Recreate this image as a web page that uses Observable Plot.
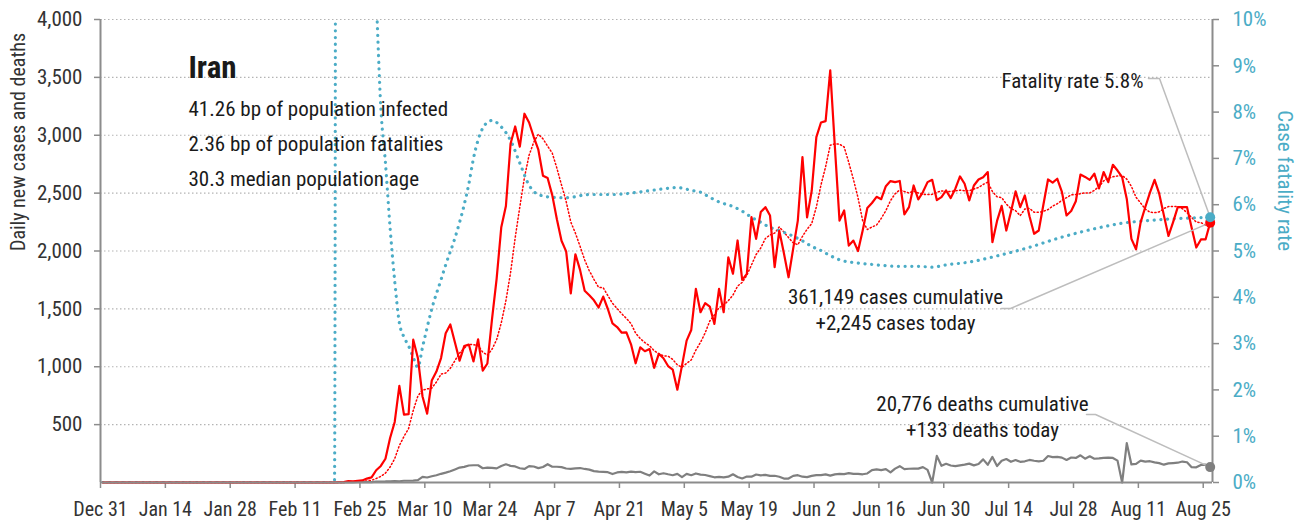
<!DOCTYPE html>
<html>
<head>
<meta charset="utf-8">
<script src="https://cdn.jsdelivr.net/npm/d3@7"></script>
<script src="https://cdn.jsdelivr.net/npm/@observablehq/plot@0.6"></script>
<style>
  html, body { margin: 0; padding: 0; background: #fff; }
  #chart svg { display: block; }
</style>
</head>
<body>
<div id="chart"></div>
<script>
// ---------------- DATA ----------------
// Series are zero from zeroStart up to the day before casesStart.
const zeroStart = "2019-12-31";
const casesStart = "2020-02-20";

// Daily new cases (one value per day from casesStart)
const dailyCases = [
  2, 3, 13, 10, 15, 18, 34, 44, 106, 143,
  205, 385, 523, 835, 586, 591, 1234, 1076, 743, 595,
  881, 958, 1075, 1289, 1365, 1209, 1053, 1178, 1192, 1046,
  1237, 966, 1028, 1411, 1762, 2206, 2389, 2926, 3076, 2901,
  3186, 3110, 2987, 2875, 2650, 2630, 2483, 2274, 2089, 1997,
  1634, 1972, 1837, 1657, 1617, 1574, 1512, 1606, 1499, 1374,
  1343, 1294, 1297, 1194, 1030, 1168, 1134, 1153, 991, 1112,
  1073, 1006, 976, 802, 1010, 1226, 1318, 1673, 1471, 1549,
  1520, 1370, 1673, 1471, 1946, 1803, 2091, 1751, 1803, 2292,
  2105, 2336, 2379, 2307, 1860, 2175, 1980, 1773, 2020, 2263,
  2811, 2290, 2520, 2984, 3110, 3122, 3561, 2900, 2263, 2350,
  2047, 2090, 2000, 2177, 2372, 2415, 2468, 2448, 2560, 2604,
  2595, 2605, 2316, 2379, 2566, 2445, 2509, 2595, 2615, 2440,
  2465, 2523, 2457, 2538, 2644, 2581, 2437, 2566, 2618, 2638,
  2682, 2076, 2260, 2390, 2177, 2340, 2515, 2379, 2480, 2300,
  2149, 2177, 2400, 2618, 2590, 2624, 2510, 2307, 2345, 2430,
  2660, 2640, 2615, 2668, 2540, 2682, 2595, 2745, 2695, 2638,
  2450, 2105, 2015, 2250, 2380, 2505, 2615, 2495, 2310, 2130,
  2250, 2379, 2379, 2379, 2200, 2030, 2100, 2100, 2245
];

// Daily new deaths (one value per day from casesStart)
const dailyDeaths = [
  2, 0, 2, 1, 3, 4, 4, 3, 7, 8,
  9, 11, 12, 11, 15, 15, 16, 21, 49, 43,
  54, 63, 75, 85, 97, 113, 129, 135, 147, 149,
  149, 123, 129, 127, 122, 143, 157, 144, 139, 123,
  117, 141, 138, 124, 134, 158, 136, 136, 133, 121,
  117, 122, 125, 117, 111, 98, 94, 92, 89, 73,
  87, 91, 88, 94, 90, 93, 76, 60, 96, 71,
  80, 71, 63, 74, 47, 74, 63, 78, 68, 65,
  55, 45, 48, 45, 50, 71, 48, 35, 51, 50,
  69, 62, 66, 57, 58, 50, 34, 34, 57, 63,
  50, 47, 57, 63, 64, 70, 59, 70, 75, 72,
  81, 74, 75, 71, 78, 107, 113, 107, 115, 87,
  120, 141, 116, 119, 121, 120, 133, 109, 0, 230,
  144, 162, 147, 141, 148, 154, 163, 148, 160, 200,
  153, 221, 142, 188, 203, 179, 194, 179, 183, 195,
  188, 183, 188, 229, 219, 221, 215, 195, 216, 212,
  235, 206, 226, 205, 208, 212, 215, 212, 189, 0,
  340, 156, 161, 189, 181, 184, 174, 167, 154, 165,
  168, 171, 181, 175, 132, 131, 152, 154, 133
];

// Case fatality rate (%)
const cfrDates = [
  "2019-12-31", "2020-02-19", "2020-02-20", "2020-02-23", "2020-02-26", "2020-02-28", "2020-02-29",
  "2020-03-01", "2020-03-02", "2020-03-03", "2020-03-04", "2020-03-05", "2020-03-06", "2020-03-07",
  "2020-03-08", "2020-03-09", "2020-03-10", "2020-03-11", "2020-03-13", "2020-03-14", "2020-03-16",
  "2020-03-17", "2020-03-18", "2020-03-19", "2020-03-20", "2020-03-21", "2020-03-23", "2020-03-24",
  "2020-03-26", "2020-03-28", "2020-03-30", "2020-04-01", "2020-04-03", "2020-04-06", "2020-04-09",
  "2020-04-14", "2020-04-19", "2020-04-26", "2020-04-29", "2020-05-03", "2020-05-06", "2020-05-08",
  "2020-05-10", "2020-05-12", "2020-05-15", "2020-05-17", "2020-05-19", "2020-05-21", "2020-05-23",
  "2020-05-25", "2020-05-28", "2020-05-30", "2020-06-01", "2020-06-03", "2020-06-05", "2020-06-07",
  "2020-06-11", "2020-06-15", "2020-06-19", "2020-06-24", "2020-06-27", "2020-06-30", "2020-07-05",
  "2020-07-10", "2020-07-18", "2020-07-25", "2020-08-01", "2020-08-07", "2020-08-13", "2020-08-19",
  "2020-08-26"
];
const cfrValues = [
  0, 0, 100, 30, 15, 10.5, 8.1,
  6.9, 5.5, 4.35, 3.45, 3.14, 2.95, 2.7,
  2.49, 2.92, 3.35, 3.75, 4.38, 4.7, 5.28,
  5.62, 6.0, 6.45, 7.0, 7.4, 7.78, 7.82,
  7.68, 7.39, 6.9, 6.42, 6.22, 6.16, 6.15,
  6.22, 6.22, 6.29, 6.33, 6.37, 6.31, 6.27,
  6.16, 6.06, 5.96, 5.86, 5.73, 5.62, 5.51,
  5.44, 5.32, 5.22, 5.1, 5.01, 4.9, 4.81,
  4.74, 4.7, 4.67, 4.67, 4.65, 4.7, 4.76,
  4.87, 5.08, 5.3, 5.48, 5.6, 5.66, 5.7,
  5.73
];

// Axes
const leftTicks = [500, 1000, 1500, 2000, 2500, 3000, 3500, 4000];
const rightTicksPct = [0, 1, 2, 3, 4, 5, 6, 7, 8, 9, 10];
const xTickDates = ["2019-12-31", "2020-01-14", "2020-01-28", "2020-02-11", "2020-02-25", "2020-03-10",
  "2020-03-24", "2020-04-07", "2020-04-21", "2020-05-05", "2020-05-19", "2020-06-02", "2020-06-16",
  "2020-06-30", "2020-07-14", "2020-07-28", "2020-08-11", "2020-08-25"];
const xTickLabels = ["Dec 31", "Jan 14", "Jan 28", "Feb 11", "Feb 25", "Mar 10", "Mar 24", "Apr 7",
  "Apr 21", "May 5", "May 19", "Jun 2", "Jun 16", "Jun 30", "Jul 14", "Jul 28", "Aug 11", "Aug 25"];
const xDomain = ["2019-12-31", "2020-08-27"];

// Texts
const yLabelLeft = "Daily new cases and deaths";
const yLabelRight = "Case fatality rate";
const countryName = "Iran";
const countryFacts = ["41.26 bp of population infected", "2.36 bp of population fatalities", "30.3 median population age"];
const cfrNote = "Fatality rate 5.8%";
const casesNote = ["361,149 cases cumulative", "+2,245 cases today"];
const deathsNote = ["20,776 deaths cumulative", "+133 deaths today"];

// ---------------- FONT PICK (narrowest installed face close to the reference width) ----------------
function pickFont() {
  const candidates = [
    ["'Liberation Sans Narrow', sans-serif", "normal"],
    ["'Arial Narrow', sans-serif", "normal"],
    ["'Roboto Condensed', sans-serif", "normal"],
    ["'Noto Sans', sans-serif", "condensed"],
    ["'Noto Sans', sans-serif", "semi-condensed"],
    ["'DejaVu Sans', sans-serif", "condensed"],
    ["'Open Sans', sans-serif", "condensed"],
    ["Roboto, sans-serif", "condensed"],
    ["Roboto, sans-serif", "normal"],
    ["Inter, sans-serif", "normal"]
  ];
  const target = 268; // width of the first fact line at 21px in the reference
  const ns = "http://www.w3.org/2000/svg";
  const svg = document.createElementNS(ns, "svg");
  svg.setAttribute("width", 10); svg.setAttribute("height", 10);
  svg.style.position = "absolute"; svg.style.left = "-9999px";
  document.body.appendChild(svg);
  let best = candidates[candidates.length - 1], bestErr = Infinity;
  for (const [fam, stretch] of candidates) {
    const t = document.createElementNS(ns, "text");
    t.setAttribute("font-family", fam);
    t.setAttribute("font-size", 21);
    t.style.fontStretch = stretch;
    t.textContent = countryFacts[0];
    svg.appendChild(t);
    const w = t.getComputedTextLength();
    const err = Math.abs(w - target);
    if (err < bestErr - 0.5) { bestErr = err; best = [fam, stretch, w]; }
  }
  svg.remove();
  return best;
}
const [FONT, STRETCH, FONTW] = pickFont();
const SX = Math.min(1, 268 / FONTW); // residual horizontal squeeze if no narrow face matches

// ---------------- BUILD ----------------
const DAY = 864e5;
const W = 1302, H = 523, ML = 100, MR = 90, MT = 19, MB = 41;
const RED = "#ff0000", BLUE = "#4bacc6", GREY = "#7f7f7f", AXIS = "#8c8c8c";
const PCT = 400; // 1% on the right axis equals 400 on the left axis (10% <-> 4,000)

const mid = t => new Date(t + DAY / 2); // daily values sit at the middle of their day
const t0 = Date.parse(zeroStart), t1 = Date.parse(casesStart);
const rows = [];
for (let t = t0; t < t1; t += DAY) rows.push({date: mid(t), cases: 0, deaths: 0});
dailyCases.forEach((v, i) => rows.push({date: mid(t1 + i * DAY), cases: v, deaths: dailyDeaths[i]}));
const cfrRows = cfrDates.map((d, i) => ({date: mid(Date.parse(d)), pct: cfrValues[i]}));
const last = rows[rows.length - 1];
const lastCfr = cfrRows[cfrRows.length - 1];

const xDom = xDomain.map(d => new Date(d));
const xS = Plot.scale({x: {type: "utc", domain: xDom, range: [ML, W - MR]}});
const yS = Plot.scale({y: {domain: [0, 4000], range: [H - MB, MT]}});
const P = (px, py) => ({x: xS.invert(px), y: yS.invert(py)});

const leaders = [
  [P(1148, 78), P(1159, 78), {x: lastCfr.date, y: lastCfr.pct * PCT}],
  [P(1001, 308), P(1010, 308), {x: last.date, y: last.cases}],
  [P(1086, 414), P(1095, 414), {x: last.date, y: last.deaths}]
].flatMap((pts, k) => pts.map(p => ({...p, k})));

const txt = (text, o) => Plot.text([text], {frameAnchor: "top-left", fill: "#1a1a1a", fontSize: 21, lineAnchor: "bottom", ...o});

const chart = Plot.plot({
  width: W, height: H,
  marginLeft: ML, marginRight: MR, marginTop: MT, marginBottom: MB,
  x: {type: "utc", domain: xDom},
  y: {domain: [0, 4000]},
  style: {fontFamily: FONT, fontStretch: STRETCH, fontSize: "20px", background: "#fff", color: "#333"},
  marks: [
    Plot.gridY(leftTicks, {stroke: "#b4b4b4", strokeOpacity: 1, strokeDasharray: "1.5 2.5", strokeWidth: 1.2}),
    Plot.axisY(leftTicks, {anchor: "left", tickSize: 6, tickPadding: 12, stroke: AXIS, strokeWidth: 1.5, fill: "#333", fontSize: 21, tickFormat: d3.format(","), label: null}),
    Plot.axisY(rightTicksPct.map(p => p * PCT), {anchor: "right", tickSize: 6, tickPadding: 14, stroke: AXIS, strokeWidth: 1.5, fill: BLUE, fontSize: 21, tickFormat: d => `${d / PCT}%`, label: null}),
    Plot.axisX(xTickDates.map(d => new Date(d)), {anchor: "bottom", tickSize: 6, tickPadding: 13, stroke: AXIS, strokeWidth: 1.5, fill: "#333", fontSize: 20, tickFormat: (d, i) => xTickLabels[i], label: null}),
    Plot.ruleX([xDom[0], xDom[1]], {stroke: AXIS, strokeWidth: 2}),
    // 7-day trailing average (dotted red)
    Plot.line(rows, Plot.windowY({k: 7, anchor: "end", reduce: "mean"}, {x: "date", y: "cases", stroke: RED, strokeWidth: 1.5, strokeDasharray: "1.2 2.4"})),
    // case fatality rate (dotted blue, right axis)
    Plot.line(cfrRows, {x: "date", y: d => d.pct * PCT, stroke: BLUE, strokeWidth: 3.2, strokeDasharray: "0.1 6.6", strokeLinecap: "round", curve: "monotone-x", clip: true}),
    // daily deaths (grey) and daily cases (red)
    Plot.line(rows, {x: "date", y: "deaths", stroke: GREY, strokeWidth: 2.2, strokeLinejoin: "round"}),
    Plot.line(rows, {x: "date", y: "cases", stroke: RED, strokeWidth: 2.2, strokeLinejoin: "round"}),
    Plot.ruleY([0], {stroke: AXIS, strokeWidth: 2}),
    // leader lines
    Plot.line(leaders, {x: "x", y: "y", z: "k", stroke: "#bdbdbd", strokeWidth: 1.5}),
    // end dots
    Plot.dot([last], {x: "date", y: "deaths", r: 5, fill: GREY}),
    Plot.dot([last], {x: "date", y: "cases", r: 5, fill: RED}),
    Plot.dot([lastCfr], {x: "date", y: d => d.pct * PCT, r: 5, fill: BLUE}),
    // axis titles
    Plot.text([yLabelLeft], {frameAnchor: "left", rotate: -90, dx: -82, fill: "#333", fontSize: 20}),
    Plot.text([yLabelRight], {frameAnchor: "right", rotate: 90, dx: 72, fill: BLUE, fontSize: 21}),
    // title block
    txt(countryName, {dx: 188 - ML, dy: 77 - MT, fontSize: 31, fontWeight: "bold", textAnchor: "start"}),
    txt(countryFacts.join("\n"), {dx: 188 - ML, dy: 185 - MT, textAnchor: "start", lineHeight: 35 / 21}),
    // annotations
    txt(cfrNote, {dx: 1143 - ML, dy: 87 - MT, textAnchor: "end"}),
    txt(casesNote.join("\n"), {dx: 895 - ML, dy: 329 - MT, textAnchor: "middle", lineHeight: 26 / 21}),
    txt(deathsNote.join("\n"), {dx: 982 - ML, dy: 436 - MT, textAnchor: "middle", lineHeight: 26 / 21})
  ]
});

// If the chosen face is still wider than the reference, squeeze each label horizontally around its anchor.
if (SX < 0.97) {
  d3.select(chart).selectAll("text").each(function () {
    const t = d3.select(this);
    const tr = t.attr("transform") || "";
    const x = +t.attr("x") || 0, y = +t.attr("y") || 0;
    t.attr("transform", `${tr} translate(${x},${y}) scale(${SX},1) translate(${-x},${-y})`);
  });
}
document.getElementById("chart").appendChild(chart);
</script>
</body>
</html>
